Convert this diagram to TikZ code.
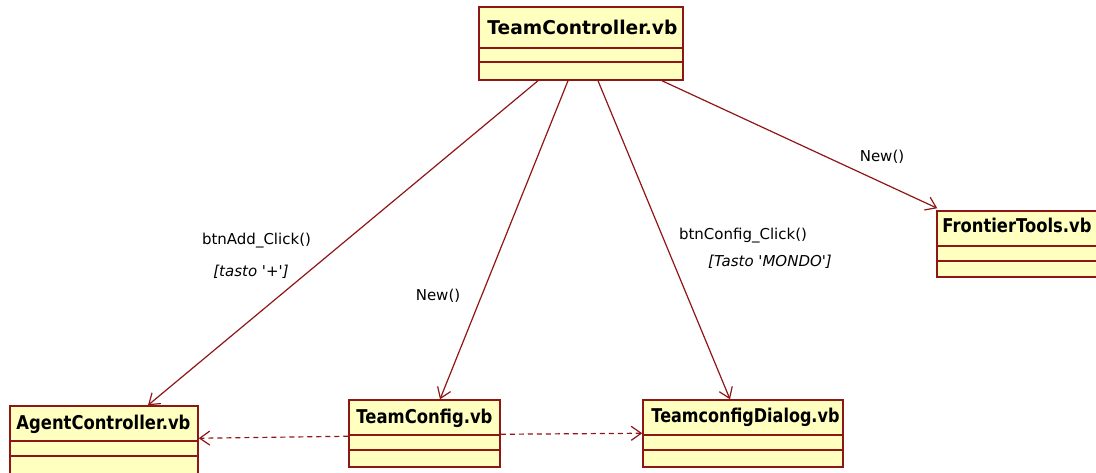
\documentclass[tikz,border=0pt]{standalone}
\usepackage{fontspec}
\usepackage{graphicx}
\setmainfont{DejaVu Sans}
\usetikzlibrary{arrows.meta,calc}
\definecolor{umlred}{HTML}{8E1616}
\definecolor{umlfill}{HTML}{FFFFC0}
% set a class name at a given width, scaling it horizontally only
\newcommand\fitname[2]{\setbox0\hbox{#2}\scalebox{\fpeval{#1/\wd0}}[1]{\box0}}
\begin{document}
\begin{tikzpicture}[x=1pt,y=-1pt,
  classbox/.style={draw=umlred, fill=umlfill, line width=1.5pt, inner sep=0pt, rectangle},
  classname/.style={font=\fontsize{19}{22}\selectfont\bfseries, inner sep=0pt},
  msg/.style={font=\fontsize{15}{18}\selectfont, inner sep=0pt},
  guard/.style={font=\fontsize{15}{18}\selectfont\itshape, inner sep=0pt},
  assoc/.style={draw=umlred, line width=1.2pt, -{Straight Barb[length=10pt,width=14pt]}},
  depend/.style={assoc, dash pattern=on 5pt off 4pt},
]
\useasboundingbox (0,0) rectangle (1096,472);

% class boxes: outer frame, name compartment and two empty compartments
\node[classbox, minimum width=204pt, minimum height=73pt] (tc) at (581,43.5) {};
\node[classbox, minimum width=166pt, minimum height=66pt] (ft) at (1020,244) {};
\node[classbox, minimum width=188pt, minimum height=84pt] (ac) at (104,448) {};
\node[classbox, minimum width=151pt, minimum height=67pt] (cfg) at (424.5,433.5) {};
\node[classbox, minimum width=200pt, minimum height=67pt] (dlg) at (743,433.5) {};

\foreach \n/\a/\b in {tc/42/56, ft/36/51, ac/36/51, cfg/36/51, dlg/36/51}{
  \draw[umlred, line width=1.6pt] ($(\n.north west)+(0,\a)$) -- ($(\n.north east)+(0,\a)$);
  \draw[umlred, line width=1.6pt] ($(\n.north west)+(0,\b)$) -- ($(\n.north east)+(0,\b)$);
}

\node[classname, anchor=base west] (tcn) at ($(tc.north west)+(9,28)$) {\fitname{190pt}{TeamController.vb}};
\node[classname, anchor=base west] (ftn) at ($(ft.north west)+(6,22)$) {\fitname{149pt}{FrontierTools.vb}};
\node[classname, anchor=base west] (acn) at ($(ac.north west)+(7,24)$) {\fitname{174pt}{AgentController.vb}};
\node[classname, anchor=base west] (cfgn) at ($(cfg.north west)+(8,24)$) {\fitname{136pt}{TeamConfig.vb}};
\node[classname, anchor=base west] (dlgn) at ($(dlg.north west)+(9,23)$) {\fitname{188pt}{TeamconfigDialog.vb}};

% navigable associations from the controller
\draw[assoc] ($(tc.south)+(-43,0)$) -- ($(ac.north)+(44,0)$);
\draw[assoc] ($(tc.south)+(-13,0)$) -- ($(cfg.north)+(15.5,0)$);
\draw[assoc] ($(tc.south)+(17,0)$) -- ($(dlg.north)+(-13,0)$);
\draw[assoc] ($(tc.south)+(81,0)$) -- ($(ft.north west)+(1,-2)$);

% dependencies of the configuration class
\draw[depend] ($(cfg.north west)+(0,37)$) -- ($(ac.north east)+(0,33)$);
\draw[depend] ($(cfg.north east)+(0,35)$) -- ($(dlg.north west)+(0,34)$);

% message labels and guards
\node[msg] (m1) at (256.5,241) {btnAdd\_Click()};
\node[guard] (g1) at (251,272) {[tasto \textquotesingle+\textquotesingle]};
\node[msg] (m2) at (438,296) {New()};
\node[msg] (m3) at (743,236) {btnConfig\_Click()};
\node[guard] (g3) at (770,262) {[Tasto \textquotesingle MONDO\textquotesingle]};
\node[msg] (m4) at (882,157) {New()};
\end{tikzpicture}
\end{document}
